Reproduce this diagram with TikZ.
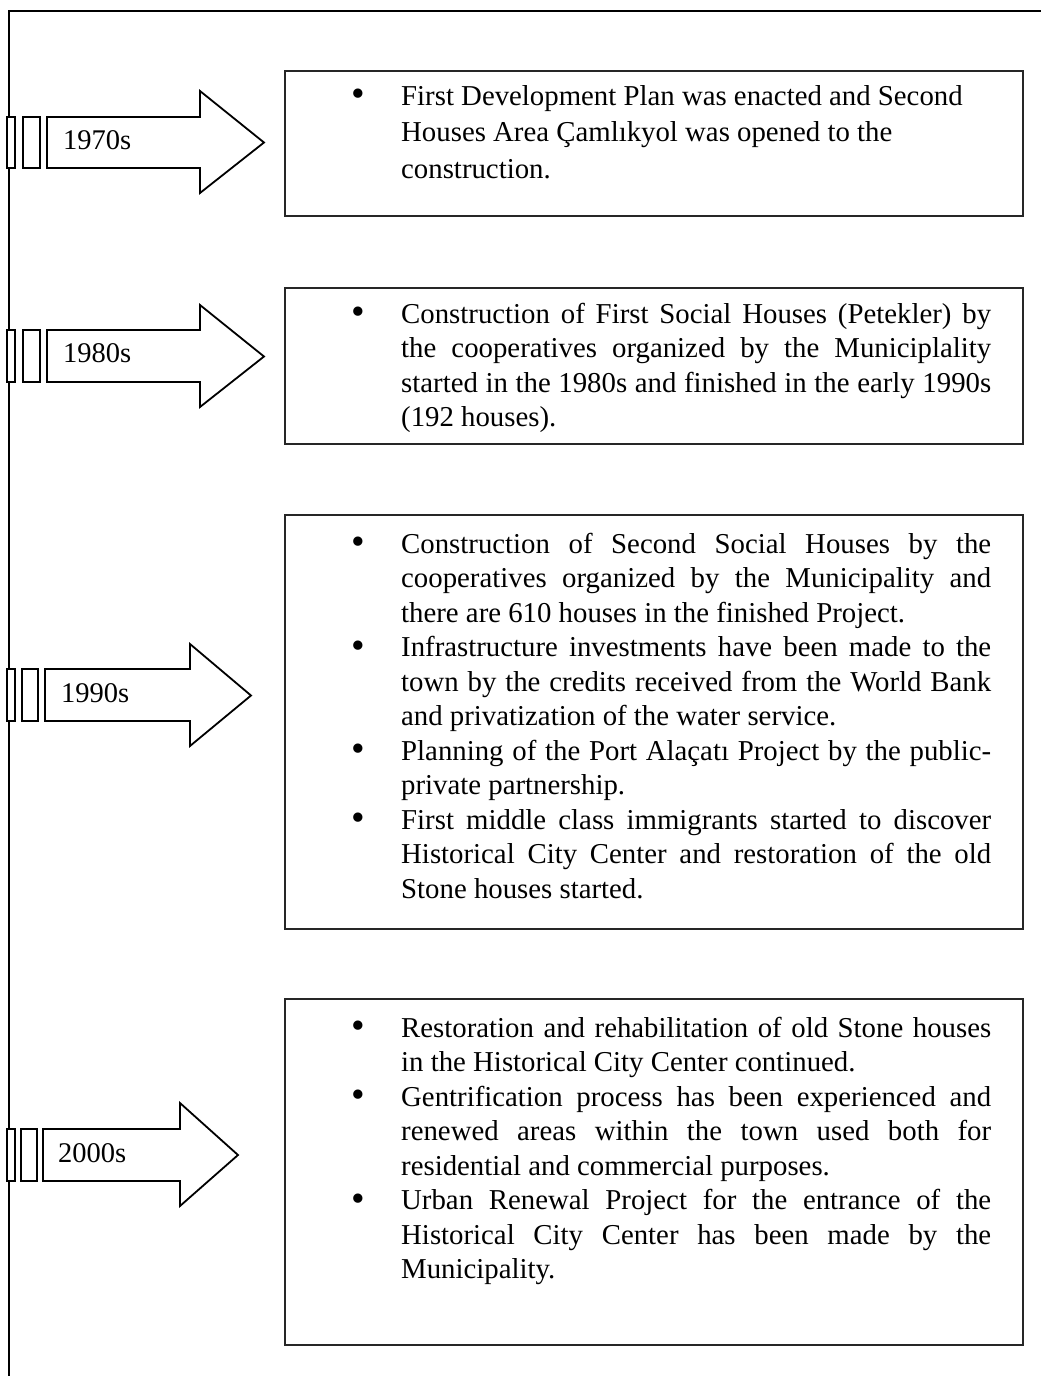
\documentclass[tikz,border=0pt]{standalone}
\usepackage{fontspec}
\setmainfont{Liberation Serif}
\usepackage{graphicx}
\newcommand{\JL}[1]{\strut\makebox[590pt][s]{#1}}
\newcommand{\RL}[1]{\strut #1}
\newcommand{\Bul}{\llap{\raisebox{-1.5pt}{\scalebox{1.35}{\textbullet}}\hspace{36pt}}}
\tikzset{
  frameline/.style={line width=2.6pt},
  decbox/.style={draw=black!85, line width=2pt, inner sep=0pt, anchor=north west},
  bararrow/.style={draw, line width=1.8pt, line join=miter, fill=white},
  tickbar/.style={draw, line width=1.6pt, fill=white},
  lbl/.style={anchor=west, inner sep=0pt, font=\fontsize{28.5}{33}\selectfont},
  body/.style={anchor=north west, inner sep=0pt, align=left, font=\fontsize{28.8}{34.5}\selectfont},
}
\begin{document}
\begin{tikzpicture}[x=1pt,y=-1pt]
\useasboundingbox (0,0) rectangle (1041,1376);
% frame
\coordinate (fb) at (9,1376);
\coordinate (fc) at (9,11);
\coordinate (fr) at (1041,11);
\draw[frameline] (fb) -- (fc) -- (fr);

% boxes
\node[decbox, minimum width=738pt, minimum height=145pt] (b70) at (284,70) {};
\node[decbox, minimum width=738pt, minimum height=156pt] (b80) at (284,287) {};
\node[decbox, minimum width=738pt, minimum height=414pt] (b90) at (284,514) {};
\node[decbox, minimum width=738pt, minimum height=346pt] (b00) at (284,998) {};

% texts
\node[body, font=\fontsize{28.8}{36.5}\selectfont] (t70) at (401,79.45) {%
\Bul\RL{First Development Plan was enacted and Second}\\
\RL{Houses Area Çamlıkyol was opened to the}\\
\RL{construction.}};

\node[body] (t80) at (401,298.85) {%
\Bul\JL{Construction of First Social Houses (Petekler) by}\\
\JL{the cooperatives organized by the Municiplality}\\
\JL{started in the 1980s and finished in the early 1990s}\\
\RL{(192 houses).}};

\node[body] (t90) at (401,528.85) {%
\Bul\JL{Construction of Second Social Houses by the}\\
\JL{cooperatives organized by the Municipality and}\\
\RL{there are 610 houses in the finished Project.}\\
\Bul\JL{Infrastructure investments have been made to the}\\
\JL{town by the credits received from the World Bank}\\
\RL{and privatization of the water service.}\\
\Bul\JL{Planning of the Port Alaçatı Project by the public-}\\
\RL{private partnership.}\\
\Bul\JL{First middle class immigrants started to discover}\\
\JL{Historical City Center and restoration of the old}\\
\RL{Stone houses started.}};

\node[body] (t00) at (401,1012.85) {%
\Bul\JL{Restoration and rehabilitation of old Stone houses}\\
\RL{in the Historical City Center continued.}\\
\Bul\JL{Gentrification process has been experienced and}\\
\JL{renewed areas within the town used both for}\\
\RL{residential and commercial purposes.}\\
\Bul\JL{Urban Renewal Project for the entrance of the}\\
\JL{Historical City Center has been made by the}\\
\RL{Municipality.}};

% arrows
\draw[bararrow] (47,117) -- (200,117) -- (200,91) -- (264,142.5) -- (200,193) -- (200,168) -- (47,168) -- cycle;
\draw[tickbar] (7,117) rectangle (15,168);
\draw[tickbar] (23,117) rectangle (40,168);
\node[lbl] (l70) at (63,140) {1970s};

\draw[bararrow] (47,330) -- (200,330) -- (200,305) -- (264,356.5) -- (200,407) -- (200,382) -- (47,382) -- cycle;
\draw[tickbar] (7,330) rectangle (15,382);
\draw[tickbar] (23,330) rectangle (40,382);
\node[lbl] (l80) at (63,353.5) {1980s};

\draw[bararrow] (45,669) -- (190,669) -- (190,644) -- (251,695.5) -- (190,746) -- (190,721) -- (45,721) -- cycle;
\draw[tickbar] (7,669) rectangle (15,721);
\draw[tickbar] (22,669) rectangle (38,721);
\node[lbl] (l90) at (61,693) {1990s};

\draw[bararrow] (43,1129) -- (180,1129) -- (180,1103) -- (238,1155) -- (180,1206) -- (180,1181) -- (43,1181) -- cycle;
\draw[tickbar] (7,1129) rectangle (15,1181);
\draw[tickbar] (21,1129) rectangle (37,1181);
\node[lbl] (l00) at (58,1153) {2000s};
\end{tikzpicture}
\end{document}
